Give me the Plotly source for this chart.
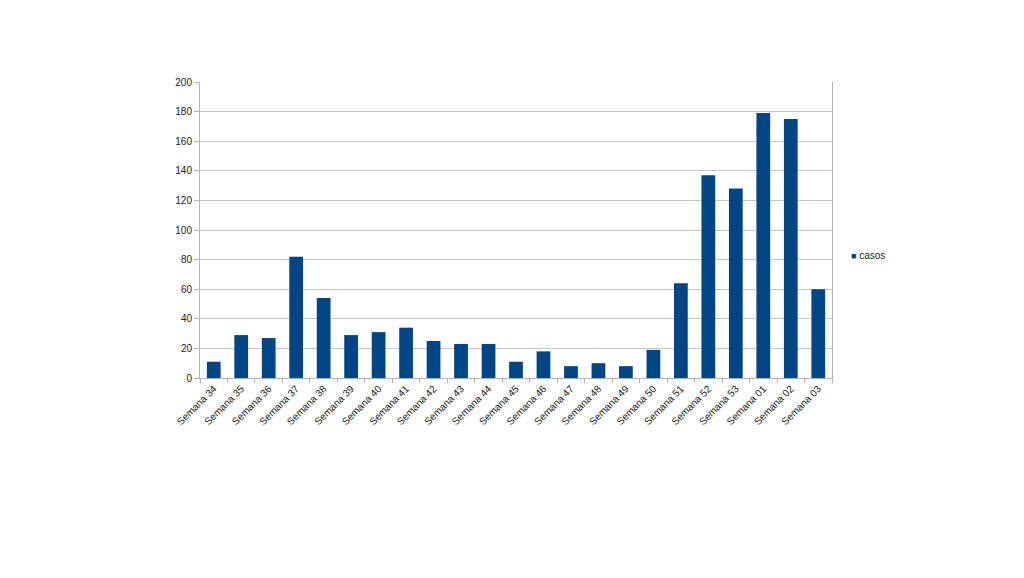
import plotly.graph_objects as go

semanas = ['Semana 34', 'Semana 35', 'Semana 36', 'Semana 37', 'Semana 38',
           'Semana 39', 'Semana 40', 'Semana 41', 'Semana 42', 'Semana 43',
           'Semana 44', 'Semana 45', 'Semana 46', 'Semana 47', 'Semana 48',
           'Semana 49', 'Semana 50', 'Semana 51', 'Semana 52', 'Semana 53',
           'Semana 01', 'Semana 02', 'Semana 03']
casos = [11, 29, 27, 82, 54, 29, 31, 34, 25, 23, 23, 11, 18, 8, 10, 8, 19,
         64, 137, 128, 179, 175, 60]
y_ticks = [0, 20, 40, 60, 80, 100, 120, 140, 160, 180, 200]

fig = go.Figure(go.Bar(x=semanas, y=casos, name='casos', showlegend=False,
                       marker_color='#004586', marker_line_width=0))

# legend drawn as a small text item (LibreOffice style: tiny square + label)
fig.add_annotation(xref='paper', yref='paper', x=1.027, y=0.415,
                   xanchor='left', yanchor='middle', showarrow=False,
                   text='<span style="color:#004586;font-size:9px">■</span> casos',
                   font=dict(size=10, color='#222222'))

# page body adds 8px, so margins are shifted to compensate
fig.update_layout(
    width=1024, height=578,
    margin=dict(l=192, r=200, t=74, b=208),
    paper_bgcolor='white', plot_bgcolor='white',
    font=dict(family='Liberation Sans', size=10, color='#222222'),
    bargap=0.5,
)
fig.update_xaxes(tickangle=-45, ticks='outside', tickson='boundaries',
                 ticklen=4, tickcolor='#b3b3b3', showline=True,
                 linecolor='#b3b3b3', mirror=False, showgrid=False)
fig.update_yaxes(range=[0, 200], tickvals=y_ticks, ticks='outside', ticklen=5,
                 tickcolor='#b3b3b3', showgrid=True, gridcolor='#c8c8c8',
                 showline=True, linecolor='#b3b3b3', mirror=True,
                 zeroline=False)

fig.write_html('out.html')
